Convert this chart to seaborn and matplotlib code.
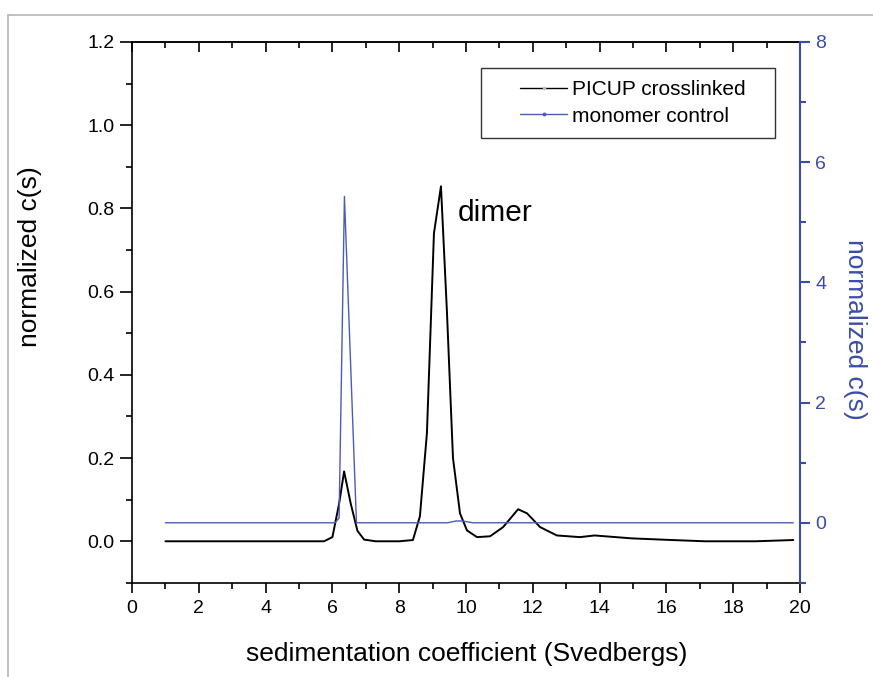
import matplotlib
matplotlib.use("Agg")
import matplotlib.pyplot as plt
from matplotlib.lines import Line2D
from matplotlib.legend_handler import HandlerLine2D
from matplotlib.ticker import MultipleLocator
import seaborn as sns

# PICUP crosslinked sample (left axis)
s_cross = [1.0, 3.0, 5.0, 5.75, 6.0, 6.2, 6.35, 6.55, 6.75, 6.95, 7.3, 8.0, 8.41,
           8.62, 8.83, 9.04, 9.25, 9.43, 9.61, 9.82, 10.03, 10.33, 10.72, 11.11,
           11.56, 11.83, 12.22, 12.72, 13.41, 13.85, 14.96, 16.17, 17.16, 18.67, 19.8]
c_cross = [0.0, 0.0, 0.0, 0.0, 0.01, 0.09, 0.168, 0.09, 0.025, 0.004, 0.0, 0.0, 0.003,
           0.06, 0.26, 0.74, 0.853, 0.55, 0.2, 0.067, 0.026, 0.01, 0.012, 0.034,
           0.077, 0.067, 0.034, 0.014, 0.01, 0.014, 0.007, 0.003, 0.0, 0.0, 0.003]

# monomer control (right axis)
s_mono = [1.0, 4.0, 6.08, 6.2, 6.36, 6.72, 8.0, 9.45, 9.7, 9.9, 10.2, 14.0, 19.8]
c_mono = [0.0, 0.0, 0.0, 0.08, 5.43, 0.0, 0.0, 0.0, 0.03, 0.03, 0.0, 0.0, 0.0]

blue = "#3a4ca8"
line_blue = "#4b5cb6"

sns.set_style("ticks")
plt.rcParams["font.family"] = ["Liberation Sans", "DejaVu Sans"]
plt.rcParams["text.color"] = "black"
plt.rcParams["axes.labelcolor"] = "black"


class PaddedLine(HandlerLine2D):
    # Origin-style legend sample: indented line with one dot in the middle
    def get_xdata(self, legend, xdescent, ydescent, width, height, fontsize):
        pad = 1.25 * fontsize
        xdata = [-xdescent + pad, -xdescent + width]
        return xdata, [-xdescent + pad + 0.5 * (width - pad)]


fig = plt.figure(figsize=(8.73, 6.77), dpi=100)
ax = fig.add_axes([0.1512, 0.139, 0.7652, 0.7991])
ax2 = ax.twinx()

sns.lineplot(x=s_cross, y=c_cross, ax=ax, color="black", linewidth=1.4)
sns.lineplot(x=s_mono, y=c_mono, ax=ax2, color=line_blue, linewidth=1.0)

ax.set_xlim(0, 20)
ax.set_ylim(-0.1, 1.2)
ax2.set_ylim(-1, 8)

ax.xaxis.set_major_locator(MultipleLocator(2))
ax.xaxis.set_minor_locator(MultipleLocator(1))
ax.yaxis.set_minor_locator(MultipleLocator(0.1))
ax.set_yticks([0.0, 0.2, 0.4, 0.6, 0.8, 1.0, 1.2])
ax.set_yticklabels(["0.0", "0.2", "0.4", "0.6", "0.8", "1.0", "1.2"])
ax2.yaxis.set_minor_locator(MultipleLocator(1))
ax2.set_yticks([0, 2, 4, 6, 8])

for sp in ["left", "bottom", "top"]:
    ax.spines[sp].set_linewidth(1.2)
    ax.spines[sp].set_color("black")
ax.spines["right"].set_visible(False)
for sp in ["left", "bottom", "top"]:
    ax2.spines[sp].set_visible(False)
ax2.spines["right"].set_visible(True)
ax2.spines["right"].set_color(blue)
ax2.spines["right"].set_linewidth(1.5)

ax.tick_params(axis="both", which="major", direction="out", length=7, width=1.2,
               labelsize=14, colors="black", pad=5)
ax.tick_params(axis="both", which="minor", direction="out", length=4.3, width=1.2,
               colors="black")
ax.tick_params(axis="y", which="major", length=8.5, pad=4)
ax.tick_params(axis="y", right=False)
ax2.tick_params(axis="y", which="major", direction="out", length=7, width=1.5,
                labelsize=14, colors=blue, pad=4)
ax2.tick_params(axis="y", which="minor", direction="out", length=4.3, width=1.5, colors=blue)

top = ax.secondary_xaxis("top")
top.xaxis.set_major_locator(MultipleLocator(2))
top.xaxis.set_minor_locator(MultipleLocator(1))
top.tick_params(which="major", direction="in", length=7, width=1.2, labeltop=False,
                colors="black")
top.tick_params(which="minor", direction="in", length=4.3, width=1.2, colors="black")
top.spines["top"].set_linewidth(1.2)

ax.set_xlabel("sedimentation coefficient (Svedbergs)", fontsize=19)
ax.xaxis.set_label_coords(0.501, -0.11)
ax.set_ylabel("normalized c(s)", fontsize=19, va="center")
ax.yaxis.set_label_coords(-0.1527, 0.604)
ax2.set_ylabel("normalized c(s)", fontsize=19, color=blue, rotation=270, va="center")
ax2.yaxis.set_label_coords(1.082, 0.4695)

ax.text(9.76, 0.79, "dimer", fontsize=21.5, ha="left", va="center")

handles = [
    Line2D([0], [0], color="black", linewidth=1.0, marker="o", markersize=1.5,
           markerfacecolor="#bbbbbb", markeredgecolor="#bbbbbb"),
    Line2D([0], [0], color=line_blue, linewidth=1.0, marker="o", markersize=1.8,
           markerfacecolor=line_blue, markeredgecolor=line_blue),
]
leg = ax.legend(handles, ["PICUP crosslinked", "monomer control"], loc="upper left",
                bbox_to_anchor=(0.5225, 0.952, 0.44, 0.0), mode="expand",
                borderaxespad=0, fontsize=15, frameon=True, fancybox=False,
                handlelength=3.55, handletextpad=0.2, borderpad=0.6, labelspacing=0.35,
                handler_map={Line2D: PaddedLine()})
leg.get_frame().set_edgecolor("black")
leg.get_frame().set_linewidth(1.0)
leg.set_zorder(5)

# thin gray frame around the figure
fig.add_artist(Line2D([0.0092, 1.0], [0.978, 0.978], color="#b5b5b5", linewidth=1.2,
                      transform=fig.transFigure))
fig.add_artist(Line2D([0.0092, 0.0092], [0.0, 0.978], color="#b5b5b5", linewidth=1.2,
                      transform=fig.transFigure))

fig.savefig("out.png", dpi=100)
